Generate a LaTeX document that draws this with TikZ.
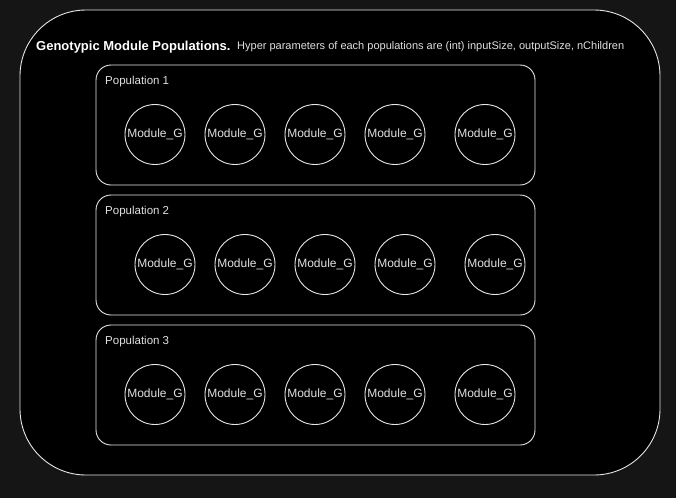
\documentclass[tikz,border=0pt]{standalone}
\usepackage{fontspec}
\setmainfont{Liberation Sans}
\definecolor{bgc}{HTML}{151515}
\definecolor{linec}{HTML}{E6E6E6}
\definecolor{txtc}{HTML}{E0E0E0}
\begin{document}
\begin{tikzpicture}[x=1pt,y=-1pt,
  popbox/.style={draw=linec,line width=0.9pt,rounded corners=15pt,fill=black},
  modg/.style={circle,draw=linec,line width=0.9pt,minimum size=60pt,inner sep=0pt,text=txtc,font=\fontsize{12}{14}\selectfont},
  poplabel/.style={anchor=west,text=txtc,inner sep=0pt,font=\fontsize{11.5}{13}\selectfont}]
\fill[bgc] (0,0) rectangle (676,498);
\useasboundingbox (0,0) rectangle (676,498);
\draw[linec,line width=0.9pt,rounded corners=66pt,fill=black] (20,10) rectangle (660,475);
\node[anchor=base west,inner sep=0pt,text=white,font=\bfseries\fontsize{13}{15}\selectfont] (title) at (36,50) {Genotypic Module Populations.};
\node[anchor=base west,inner sep=0pt,text=txtc,font=\fontsize{11}{13}\selectfont] (sub) at (237,49) {Hyper parameters of each populations are (int) inputSize, outputSize, nChildren};
\foreach \i/\top/\off in {1/65/0,2/195/10,3/325/0}{
  \draw[popbox] (96,\top) rectangle (535,\top+120);
  \node[poplabel] (pl\i) at (105,\top+16.5) {Population \i};
  \foreach \j/\cx in {1/155,2/235,3/315,4/395,5/485}{
    \node[modg] (m\i\j) at (\cx+\off,\top+69.5) {Module\_G};
  }
}
\end{tikzpicture}
\end{document}
